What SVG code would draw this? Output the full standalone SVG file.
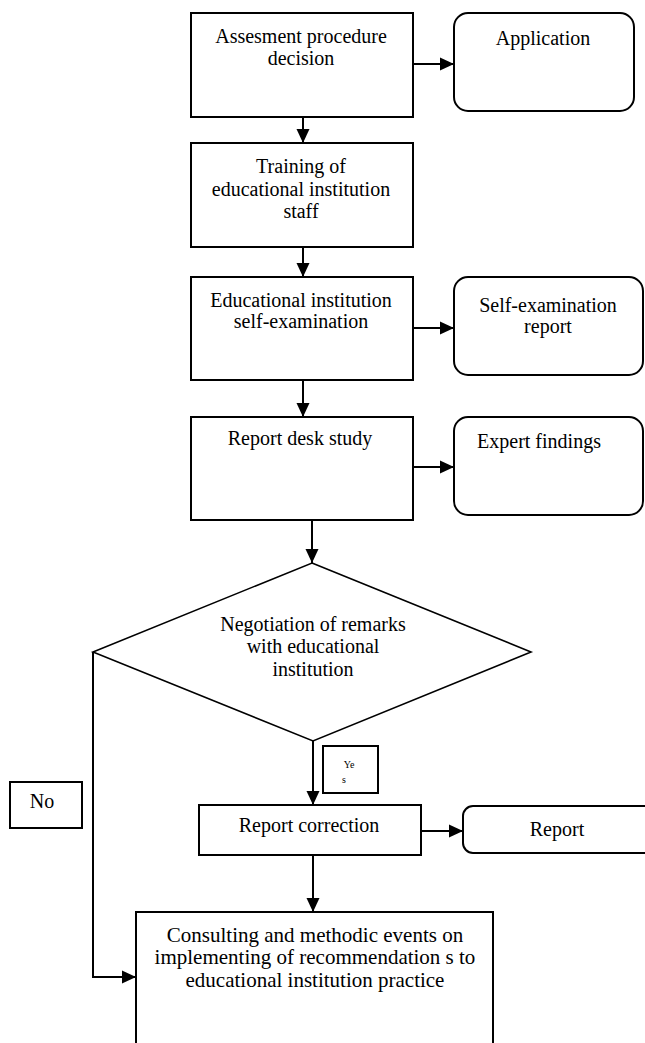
<svg xmlns="http://www.w3.org/2000/svg" width="645" height="1043" viewBox="0 0 645 1043">
<style>
.box{fill:#fff;stroke:#000;stroke-width:2}
.rbox{fill:#fff;stroke:#000;stroke-width:2}
.dia{fill:#fff;stroke:#000;stroke-width:1.6}
.t{font-family:'Liberation Serif','DejaVu Serif',serif;font-size:20px;fill:#000;text-anchor:middle}
.s{font-family:'Liberation Serif','DejaVu Serif',serif;font-size:10px;fill:#000;text-anchor:middle}
.c{fill:none;stroke:#000;stroke-width:2}
</style>
<defs>
<marker id="ah" viewBox="0 0 14 14" refX="14" refY="7" markerWidth="14" markerHeight="14" markerUnits="userSpaceOnUse" orient="auto">
<path d="M0,0.5 L14,7 L0,13.5 Z" fill="#000"/>
</marker>
</defs>
<rect width="645" height="1043" fill="#fff"/>
<g id="connectors">
<line class="c" x1="413" y1="64" x2="454" y2="64" marker-end="url(#ah)"/>
<line class="c" x1="303" y1="117" x2="303" y2="143" marker-end="url(#ah)"/>
<line class="c" x1="303" y1="247" x2="303" y2="277" marker-end="url(#ah)"/>
<line class="c" x1="413" y1="328" x2="454" y2="328" marker-end="url(#ah)"/>
<line class="c" x1="303" y1="380" x2="303" y2="417" marker-end="url(#ah)"/>
<line class="c" x1="413" y1="467" x2="454" y2="467" marker-end="url(#ah)"/>
<line class="c" x1="312" y1="520" x2="312" y2="563" marker-end="url(#ah)"/>
<line class="c" x1="313" y1="741" x2="313" y2="805" marker-end="url(#ah)"/>
<line class="c" x1="421" y1="831" x2="463" y2="831" marker-end="url(#ah)"/>
<line class="c" x1="313" y1="855" x2="313" y2="912" marker-end="url(#ah)"/>
<polyline class="c" points="93,652 93,977 136,977" marker-end="url(#ah)"/>
</g>
<g id="n1">
<rect class="box" x="191" y="13" width="222" height="104"/>
<text class="t" x="301" y="43">Assesment procedure</text>
<text class="t" x="301" y="65">decision</text>
</g>
<g id="n_application">
<rect class="rbox" x="454" y="13" width="180" height="98" rx="14"/>
<text class="t" x="543" y="45">Application</text>
</g>
<g id="n2">
<rect class="box" x="191" y="143" width="222" height="104"/>
<text class="t" x="301" y="173">Training of</text>
<text class="t" x="301" y="196">educational institution</text>
<text class="t" x="301" y="218">staff</text>
</g>
<g id="n3">
<rect class="box" x="191" y="277" width="222" height="103"/>
<text class="t" x="301" y="307">Educational institution</text>
<text class="t" x="301" y="328">self-examination</text>
</g>
<g id="n_ser">
<rect class="rbox" x="454" y="277" width="189" height="98" rx="14"/>
<text class="t" x="548" y="312">Self-examination</text>
<text class="t" x="548" y="333">report</text>
</g>
<g id="n4">
<rect class="box" x="191" y="417" width="222" height="103"/>
<text class="t" x="300" y="445">Report desk study</text>
</g>
<g id="n_expert">
<rect class="rbox" x="454" y="417" width="189" height="98" rx="14"/>
<text class="t" x="539" y="448">Expert findings</text>
</g>
<g id="n_decision">
<polygon class="dia" points="312,563 531,652 313,741 93,652"/>
<text class="t" x="313" y="631">Negotiation of remarks</text>
<text class="t" x="313" y="653">with educational</text>
<text class="t" x="313" y="676">institution</text>
</g>
<g id="n_yes">
<rect class="box" x="323" y="746" width="55" height="47"/>
<text class="s" x="349" y="768">Ye</text>
<text class="s" x="344" y="783">s</text>
</g>
<g id="n_no">
<rect class="box" x="10" y="782" width="72" height="46"/>
<text class="t" x="42" y="808">No</text>
</g>
<g id="n_correction">
<rect class="box" x="199" y="805" width="222" height="50"/>
<text class="t" x="309" y="832">Report correction</text>
</g>
<g id="n_report">
<rect class="rbox" x="463" y="806" width="200" height="47" rx="10"/>
<text class="t" x="557" y="836">Report</text>
</g>
<g id="n_consult">
<rect class="box" x="136" y="912" width="357" height="150"/>
<text class="t" x="315" y="942" style="font-size:21px">Consulting and methodic events on</text>
<text class="t" x="315" y="964" style="font-size:21px">implementing of recommendation s to</text>
<text class="t" x="315" y="987" style="font-size:21px">educational institution practice</text>
</g>
</svg>
